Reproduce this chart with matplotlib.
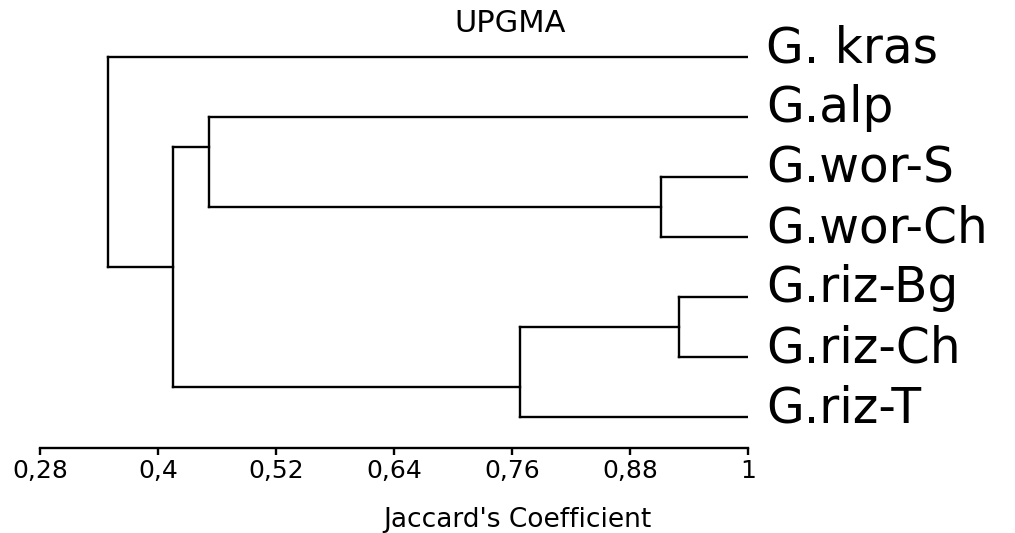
import matplotlib
matplotlib.use('Agg')
from matplotlib import pyplot as plt

# leaves, top to bottom
leaves = ['G. kras', 'G.alp', 'G.wor-S', 'G.wor-Ch', 'G.riz-Bg', 'G.riz-Ch', 'G.riz-T']

# merges: node ids 7.. (children, similarity level)
merge_a = [2, 4, 1, 8, 9, 0]
merge_b = [3, 5, 7, 6, 10, 11]
merge_h = [0.911, 0.930, 0.452, 0.768, 0.415, 0.349]
# where each merged cluster hangs on its parent (in leaf rows), as drawn in the original
merge_join = [2.5, 4.5, 1.5, 5.5, 3.5, None]

tick_values = [0.28, 0.4, 0.52, 0.64, 0.76, 0.88, 1.0]
tick_labels = ['0,28', '0,4', '0,52', '0,64', '0,76', '0,88', '1']

plt.rcParams['font.family'] = 'DejaVu Sans'

fig = plt.figure(figsize=(10.15, 5.33), dpi=100)
ax = fig.add_axes([40.3 / 1015, (533 - 447.7) / 533, 708 / 1015, 417.7 / 533])

n = len(leaves)
height = [1.0] * n + merge_h
ypos = list(range(n)) + merge_join

lw = 1.7
for k in range(len(merge_h)):
    a, b, h = merge_a[k], merge_b[k], merge_h[k]
    ax.plot([h, h], [ypos[a], ypos[b]], color='black', lw=lw, solid_capstyle='projecting')
    ax.plot([h, height[a]], [ypos[a], ypos[a]], color='black', lw=lw, solid_capstyle='projecting')
    ax.plot([h, height[b]], [ypos[b], ypos[b]], color='black', lw=lw, solid_capstyle='projecting')

for i, name in enumerate(leaves):
    ax.annotate(name, (1.0, i), xytext=(18, -5), textcoords='offset pixels',
                va='baseline', ha='left', fontsize=35, annotation_clip=False)

ax.set_xlim(0.28, 1.0)
ax.set_ylim(6.51, -0.45)
ax.set_xticks(tick_values)
ax.set_xticklabels(tick_labels, fontsize=18)
ax.set_yticks([])
for s in ['top', 'right', 'left']:
    ax.spines[s].set_visible(False)
ax.spines['bottom'].set_linewidth(lw)
ax.tick_params(axis='x', length=5, width=lw, pad=3)

fig.text(510 / 1015, 1 - 24 / 533, 'UPGMA', ha='center', va='center', fontsize=22)
fig.text(517 / 1015, 1 - 520 / 533, "Jaccard's Coefficient", ha='center', va='center', fontsize=19)

plt.savefig('out.png')
